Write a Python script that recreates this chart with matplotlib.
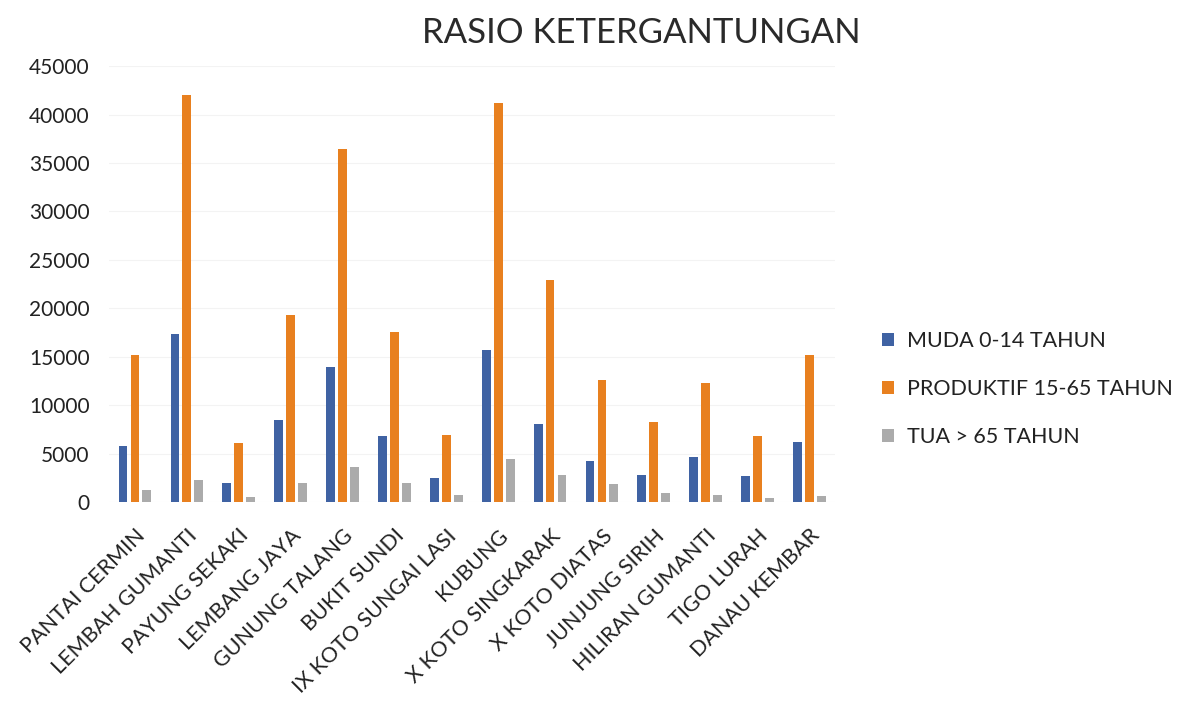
import matplotlib.pyplot as plt
import numpy as np

plt.rcParams['font.family'] = ['Lato', 'DejaVu Sans']

kecamatan = ["PANTAI CERMIN", "LEMBAH GUMANTI", "PAYUNG SEKAKI", "LEMBANG JAYA",
             "GUNUNG TALANG", "BUKIT SUNDI", "IX KOTO SUNGAI LASI", "KUBUNG",
             "X KOTO SINGKARAK", "X KOTO DIATAS", "JUNJUNG SIRIH", "HILIRAN GUMANTI",
             "TIGO LURAH", "DANAU KEMBAR"]
muda = [5800, 17300, 2000, 8500, 13900, 6800, 2500, 15700, 8100, 4200, 2800, 4600, 2700, 6200]
produktif = [15200, 42000, 6100, 19300, 36400, 17500, 6900, 41200, 22900, 12600, 8300, 12300, 6800, 15200]
tua = [1250, 2300, 500, 1950, 3600, 1950, 700, 4400, 2800, 1850, 950, 700, 400, 600]
series_names = ["MUDA 0-14 TAHUN", "PRODUKTIF 15-65 TAHUN", "TUA > 65 TAHUN"]
colors = ["#3f62a3", "#e8801f", "#ababab"]

fig = plt.figure(figsize=(11.85, 7.04), dpi=100)
ax = fig.add_axes([0.092, 0.287, 0.613, 0.619])

x = np.arange(len(kecamatan))
w = 0.17
for i, (vals, name) in enumerate(zip([muda, produktif, tua], series_names)):
    ax.bar(x + (i - 1) * 0.23, vals, w, color=colors[i], label=name, zorder=3)

ax.set_ylim(0, 45000)
ax.set_yticks(np.arange(0, 45001, 5000))
ax.set_xlim(-0.5, len(kecamatan) - 0.5)
ax.set_xticks(x)
ax.set_xticklabels(kecamatan, rotation=45, ha="right", rotation_mode="anchor", fontsize=15.5, color="#222222")
ax.tick_params(axis="y", labelsize=15, colors="#222222", length=0, pad=14)
ax.tick_params(axis="x", length=0, pad=17)
ax.grid(axis="y", color="#f3f3f3", linewidth=0.8, zorder=0)
for s in ax.spines.values():
    s.set_visible(False)

fig.text(0.541, 0.953, "RASIO KETERGANTUNGAN", ha="center", va="center", fontsize=25,
         color="#2a2a2a")

leg = ax.legend(loc="center left", bbox_to_anchor=(1.038, 0.26), frameon=False, fontsize=15.5,
                handlelength=0.55, handleheight=0.55, labelspacing=1.3, handletextpad=0.6)
for t in leg.get_texts():
    t.set_color("#222222")

fig.savefig("out.png", dpi=100)
